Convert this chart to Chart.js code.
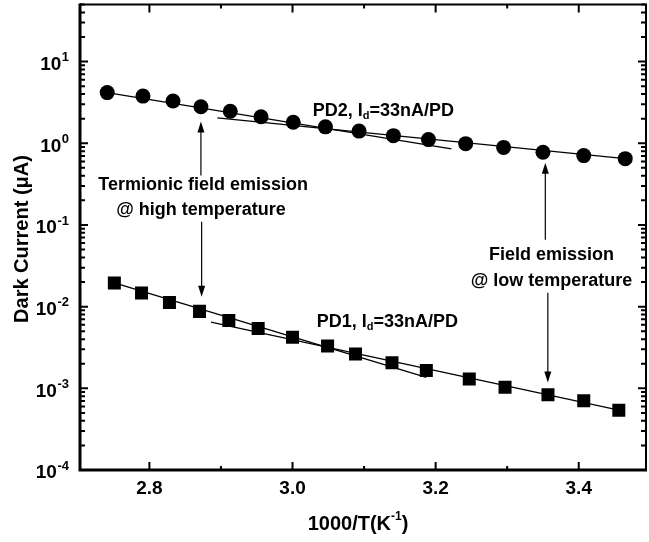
<!DOCTYPE html>
<html><head><meta charset="utf-8">
<script src="https://cdn.jsdelivr.net/npm/chart.js@4/dist/chart.umd.min.js"></script>
<style>html,body{margin:0;padding:0;background:#fff}canvas{display:block}</style>
</head><body>
<canvas id="c" width="649" height="542"></canvas>
<script>
// ---- data (x = 1000/T in K^-1, y = dark current in µA) ----
const xPD2 = [2.741, 2.791, 2.833, 2.872, 2.913, 2.956, 3.001, 3.046, 3.093, 3.141, 3.190, 3.242, 3.295, 3.350, 3.407, 3.465];
const yPD2 = [4.17, 3.78, 3.29, 2.80, 2.47, 2.11, 1.81, 1.59, 1.41, 1.24, 1.11, 0.99, 0.89, 0.775, 0.706, 0.648];
const xPD1 = [2.751, 2.789, 2.828, 2.870, 2.911, 2.952, 3.000, 3.049, 3.088, 3.139, 3.187, 3.247, 3.297, 3.357, 3.407, 3.456];
const yPD1 = [0.0195, 0.0147, 0.0112, 0.00875, 0.00678, 0.00541, 0.00423, 0.0033, 0.00264, 0.00205, 0.00165, 0.0013, 0.00103, 0.000834, 0.000703, 0.00054];
// fitted lines (high-temperature and low-temperature regimes)
const xFitPD2High = [2.741, 3.222];
const yFitPD2High = [4.17, 0.853];
const xFitPD2Low = [2.895, 3.465];
const yFitPD2Low = [2.05, 0.648];
const xFitPD1High = [2.751, 3.187];
const yFitPD1High = [0.0195, 0.00136];
const xFitPD1Low = [2.886, 3.456];
const yFitPD1Low = [0.00647, 0.00054];
// ticks
const xMajorTicks = [2.8, 3.0, 3.2, 3.4];
const xMinorTicks = [2.9, 3.1, 3.3];
const yDecades = [-4, -3, -2, -1, 0, 1];

const FONT = '"Liberation Sans", Arial, Helvetica, sans-serif';
const pts = (xs, ys) => xs.map((x, i) => ({x: x, y: ys[i]}));

// annotations (in data coordinates)
const texts = [
  {t: ['PD2, I', 'd', '=33nA/PD'], x: 3.0284, y: 2.455, align: 'left'},
  {t: ['Termionic field emission'], x: 2.875, y: 0.312, align: 'center'},
  {t: ['@ high temperature'], x: 2.872, y: 0.154, align: 'center'},
  {t: ['Field emission'], x: 3.362, y: 0.0432, align: 'center'},
  {t: ['@ low temperature'], x: 3.362, y: 0.0203, align: 'center'},
  {t: ['PD1, I', 'd', '=33nA/PD'], x: 3.0338, y: 0.00656, align: 'left'}
];
const arrows = [
  {x: 2.872, y1: 0.402, y2: 1.851},
  {x: 2.873, y1: 0.1098, y2: 0.01318},
  {x: 3.3533, y1: 0.0660, y2: 0.5765},
  {x: 3.3568, y1: 0.01477, y2: 0.001178}
];

function drawRich(ctx, parts, x, y, align, size) {
  const subSize = Math.round(size * 0.6);
  const widths = parts.map((p, i) => {
    ctx.font = 'bold ' + (i === 1 ? subSize : size) + 'px ' + FONT;
    return ctx.measureText(p).width;
  });
  const total = widths.reduce((a, b) => a + b, 0);
  let cx = align === 'center' ? x - total / 2 : x;
  ctx.textAlign = 'left';
  ctx.textBaseline = 'middle';
  parts.forEach((p, i) => {
    ctx.font = 'bold ' + (i === 1 ? subSize : size) + 'px ' + FONT;
    ctx.fillText(p, cx, i === 1 ? y + 5 : y);
    cx += widths[i];
  });
}

const decor = {
  id: 'decor',
  afterDraw(chart) {
    const {ctx, chartArea: a, scales: {x, y}} = chart;
    ctx.save();
    ctx.strokeStyle = '#000';
    ctx.fillStyle = '#000';
    // frame
    ctx.lineWidth = 2;
    ctx.beginPath();
    ctx.moveTo(a.left, a.top); ctx.lineTo(a.right, a.top); ctx.lineTo(a.right, a.bottom);
    ctx.stroke();
    ctx.lineWidth = 3;
    ctx.beginPath();
    ctx.moveTo(a.left, a.top - 1); ctx.lineTo(a.left, a.bottom); ctx.lineTo(a.right + 1, a.bottom);
    ctx.stroke();
    // y ticks (inward, both sides)
    ctx.lineWidth = 2;
    yDecades.forEach(k => {
      for (let m = 1; m <= 9; m++) {
        const v = m * Math.pow(10, k);
        if (v > y.max || v < y.min) continue;
        const py = y.getPixelForValue(v);
        const len = m === 1 ? 8 : 5;
        ctx.beginPath();
        ctx.moveTo(a.left, py); ctx.lineTo(a.left + len, py);
        ctx.moveTo(a.right, py); ctx.lineTo(a.right - len, py);
        ctx.stroke();
      }
    });
    // x ticks
    const xt = (v, len) => {
      const px = x.getPixelForValue(v);
      ctx.beginPath();
      ctx.moveTo(px, a.bottom); ctx.lineTo(px, a.bottom - len);
      ctx.moveTo(px, a.top); ctx.lineTo(px, a.top + len);
      ctx.stroke();
    };
    xMajorTicks.forEach(v => xt(v, 8));
    xMinorTicks.forEach(v => xt(v, 4));
    // x tick labels
    ctx.font = 'bold 19px ' + FONT;
    ctx.textAlign = 'center';
    ctx.textBaseline = 'middle';
    xMajorTicks.forEach(v => ctx.fillText(v.toFixed(1), x.getPixelForValue(v), a.bottom + 19));
    // y tick labels 10^k
    yDecades.forEach(k => {
      const py = y.getPixelForValue(Math.pow(10, k));
      ctx.font = 'bold 13px ' + FONT;
      const e = String(k);
      const ew = ctx.measureText(e).width;
      const right = a.left - 11;
      ctx.textAlign = 'left';
      ctx.textBaseline = 'middle';
      ctx.fillText(e, right - ew, py - 4);
      ctx.font = 'bold 19px ' + FONT;
      ctx.textAlign = 'right';
      ctx.fillText('10', right - ew - 0.5, py + 3);
    });
    // x axis title
    ctx.font = 'bold 20px ' + FONT;
    const t1 = '1000/T(K', t3 = ')';
    const w1 = ctx.measureText(t1).width, w3 = ctx.measureText(t3).width;
    ctx.font = 'bold 12px ' + FONT;
    const t2 = '-1';
    const w2 = ctx.measureText(t2).width;
    let sx = 358 - (w1 + w2 + w3) / 2;
    ctx.textAlign = 'left';
    ctx.textBaseline = 'middle';
    ctx.font = 'bold 20px ' + FONT;
    ctx.fillText(t1, sx, 524);
    ctx.font = 'bold 12px ' + FONT;
    ctx.fillText(t2, sx + w1, 517);
    ctx.font = 'bold 20px ' + FONT;
    ctx.fillText(t3, sx + w1 + w2, 524);
    // y axis title
    ctx.save();
    ctx.translate(22, 239);
    ctx.rotate(-Math.PI / 2);
    ctx.font = 'bold 20px ' + FONT;
    ctx.textAlign = 'center';
    ctx.textBaseline = 'middle';
    ctx.fillText('Dark Current (\u03BCA)', 0, 0);
    ctx.restore();
    // annotations
    texts.forEach(o => drawRich(ctx, o.t, x.getPixelForValue(o.x), y.getPixelForValue(o.y), o.align, 18));
    // arrows
    ctx.lineWidth = 1.2;
    arrows.forEach(ar => {
      const px = x.getPixelForValue(ar.x);
      const p1 = y.getPixelForValue(ar.y1), p2 = y.getPixelForValue(ar.y2);
      const dir = p2 < p1 ? -1 : 1;
      ctx.beginPath();
      ctx.moveTo(px, p1); ctx.lineTo(px, p2 - dir * 8);
      ctx.stroke();
      ctx.beginPath();
      ctx.moveTo(px, p2);
      ctx.lineTo(px - 3.5, p2 - dir * 11);
      ctx.lineTo(px + 3.5, p2 - dir * 11);
      ctx.closePath();
      ctx.fill();
    });
    ctx.restore();
  }
};

const lineDS = (xs, ys) => ({
  data: pts(xs, ys), showLine: true, borderColor: '#000', borderWidth: 1.3,
  pointRadius: 0, fill: false, tension: 0, order: 2
});

new Chart(document.getElementById('c'), {
  type: 'scatter',
  data: {
    datasets: [
      lineDS(xFitPD2High, yFitPD2High),
      lineDS(xFitPD2Low, yFitPD2Low),
      lineDS(xFitPD1High, yFitPD1High),
      lineDS(xFitPD1Low, yFitPD1Low),
      {label: 'PD2', data: pts(xPD2, yPD2), pointStyle: 'circle', pointRadius: 7.5,
       backgroundColor: '#000', borderColor: '#000', borderWidth: 0, order: 1},
      {label: 'PD1', data: pts(xPD1, yPD1), pointStyle: 'rect', pointRadius: 9.2,
       backgroundColor: '#000', borderColor: '#000', borderWidth: 0, order: 1}
    ]
  },
  options: {
    responsive: false,
    animation: false,
    devicePixelRatio: 1,
    layout: {autoPadding: false, padding: {left: 80, right: 3, top: 4.5, bottom: 72}},
    plugins: {legend: {display: false}, tooltip: {enabled: false}},
    scales: {
      x: {type: 'linear', min: 2.703, max: 3.494,
          grid: {display: false, drawTicks: false}, border: {display: false},
          ticks: {display: false}},
      y: {type: 'logarithmic', min: 1e-4, max: 50,
          grid: {display: false, drawTicks: false}, border: {display: false},
          ticks: {display: false}}
    }
  },
  plugins: [decor]
});
</script>
</body></html>
